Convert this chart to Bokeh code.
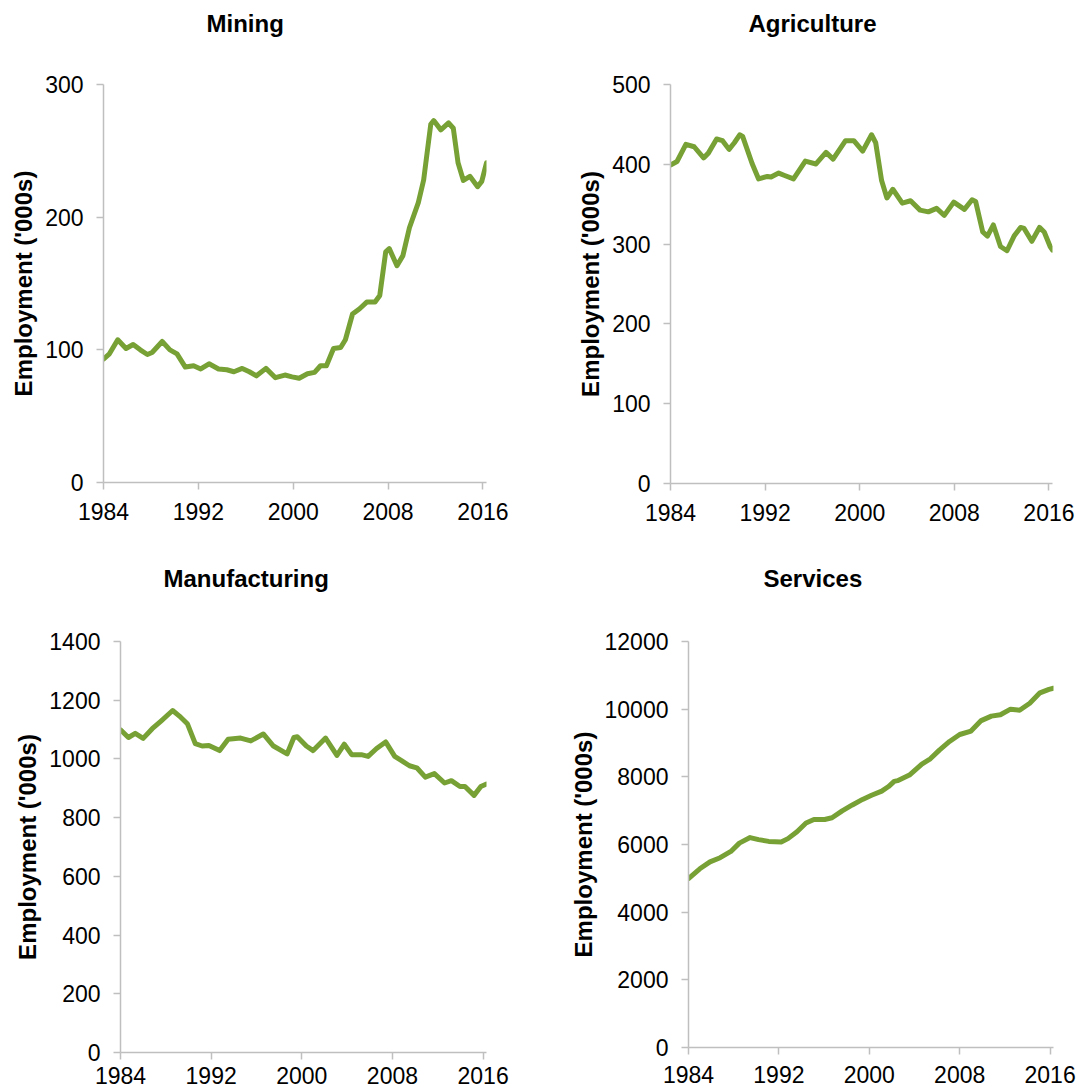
from bokeh.plotting import figure
from bokeh.layouts import column, row
from bokeh.models import Range1d, FixedTicker, Title
from bokeh.embed import file_html
from bokeh.resources import INLINE

# ---------------- data ----------------
x_ticks = [1984, 1992, 2000, 2008, 2016]

mining_year = [1984.0, 1984.5, 1985.2, 1985.9, 1986.5, 1987.1, 1987.7, 1988.1, 1988.95, 1989.6,
               1990.2, 1990.9, 1991.6, 1992.2, 1992.9, 1993.7, 1994.4, 1995.0, 1995.7, 1996.3,
               1996.9, 1997.7, 1998.5, 1999.3, 1999.9, 2000.5, 2001.2, 2001.8, 2002.3, 2002.8,
               2003.4, 2004.0, 2004.4, 2005.0, 2005.6, 2006.2, 2006.9, 2007.3, 2007.8, 2008.1,
               2008.75, 2009.25, 2009.8, 2010.55, 2011.0, 2011.6, 2011.85, 2012.45, 2013.1, 2013.5,
               2013.9, 2014.35, 2014.9, 2015.55, 2015.9, 2016.3]
mining_value = [93, 97, 107.6, 101, 104, 100, 96.5, 98, 106.3, 100,
                97, 87, 88, 85.6, 89.5, 85.6, 85, 83.5, 86, 83.5,
                80.4, 86, 79, 81, 79.6, 78.6, 82, 83, 88, 88,
                101, 101.7, 107.6, 127, 131, 136, 136, 141, 173.8, 176.3,
                163.4, 171, 192, 211, 228, 270, 272.8, 265.8, 271, 267,
                241, 227.7, 230.8, 223, 227, 241]

agri_year = [1984.0, 1984.55, 1985.3, 1986.0, 1986.8, 1987.2, 1987.9, 1988.4, 1988.95, 1989.4,
             1989.85, 1990.1, 1990.9, 1991.45, 1992.2, 1992.5, 1993.15, 1993.65, 1994.4, 1995.4,
             1996.3, 1997.15, 1997.75, 1998.8, 1999.5, 2000.25, 2001.0, 2001.35, 2001.85, 2002.3,
             2002.8, 2003.6, 2004.3, 2005.1, 2005.8, 2006.5, 2007.15, 2007.95, 2008.85, 2009.5,
             2009.8, 2010.4, 2010.8, 2011.3, 2011.9, 2012.45, 2013.05, 2013.6, 2013.9, 2014.55,
             2015.2, 2015.6, 2016.1, 2016.3]
agri_value = [399, 403.5, 425, 422, 408, 414, 431.7, 429.6, 418.7, 427,
              437, 435, 401, 381.7, 384.8, 384, 389, 386, 381.7, 404,
              400.4, 415, 406.5, 429.6, 429.6, 416.5, 437, 427, 379.6, 357.8,
              368.7, 351.3, 354.3, 342.6, 340.4, 344.8, 336, 352.6, 343.5, 355.6,
              353.5, 315.2, 310, 324, 297, 291.7, 310, 320.9, 319.6, 303.5,
              320.9, 315.2, 297, 292.6]

manu_year = [1984.0, 1984.7, 1985.3, 1986.0, 1986.8, 1987.6, 1988.6, 1989.2, 1989.9, 1990.6,
             1991.2, 1991.8, 1992.75, 1993.5, 1994.6, 1995.5, 1996.6, 1997.5, 1998.7, 1999.3,
             1999.6, 2000.4, 2001.0, 2002.1, 2003.1, 2003.75, 2004.4, 2005.25, 2005.85, 2006.6,
             2007.4, 2008.2, 2008.8, 2009.5, 2010.15, 2010.9, 2011.7, 2012.6, 2013.2, 2013.96,
             2014.4, 2015.2, 2015.8, 2016.3]
manu_value = [1099, 1073, 1087, 1070, 1103, 1130, 1165, 1146, 1120, 1052,
              1044, 1046, 1028.5, 1067, 1071, 1061.5, 1085, 1044, 1017, 1073,
              1075.6, 1044, 1028.5, 1071, 1012, 1050, 1014.5, 1014.5, 1008.6, 1035.6,
              1058, 1008.6, 994.5, 976.8, 969.8, 938, 950, 918, 926, 906,
              906, 875.8, 906, 914.5]

serv_year = [1984.0, 1985.0, 1985.9, 1986.8, 1987.75, 1988.5, 1989.45, 1990.2, 1991.1, 1992.2,
             1992.8, 1993.6, 1994.4, 1995.1, 1996.05, 1996.7, 1997.6, 1998.5, 1999.4, 2000.2,
             2001.1, 2001.7, 2002.2, 2002.5, 2003.55, 2004.65, 2005.4, 2006.2, 2007.1, 2008.0,
             2009.0, 2009.9, 2010.8, 2011.6, 2012.5, 2013.3, 2014.2, 2015.1, 2015.9, 2016.3]
serv_value = [4995, 5282, 5487, 5610, 5795, 6041, 6205, 6144, 6092, 6072,
              6174, 6379, 6636, 6738, 6738, 6790, 6995, 7169, 7333, 7456,
              7579, 7713, 7867, 7887, 8051, 8379, 8533, 8790, 9046, 9251,
              9354, 9662, 9795, 9836, 10000, 9969, 10174, 10482, 10585, 10620]

LINE_COLOR = "#77a135"
AXIS_COLOR = "#bfbfbf"
FONT = "Liberation Sans"


def make(title, xs, ys, ymax, ystep, fw, fh, bl, br, bt, bb, toff, gap, xstand):
    p = figure(frame_width=fw, frame_height=fh,
               min_border_left=bl, min_border_right=br,
               min_border_top=bt, min_border_bottom=bb,
               x_range=Range1d(1984, 2016.3), y_range=Range1d(0, ymax),
               output_backend="svg", toolbar_location=None, tools="")
    p.title.text = title
    p.title.align = "left"
    p.title.vertical_align = "bottom"
    p.title.offset = toff
    p.title.standoff = 10
    p.title.text_font = FONT
    p.title.text_font_size = "24px"
    p.title.text_font_style = "bold"
    p.title.text_color = "black"
    # empty spacer between the frame and the title
    p.add_layout(Title(text=" ", text_font_size="1px", standoff=gap), "above")
    p.outline_line_color = None
    p.xgrid.visible = False
    p.ygrid.visible = False
    p.background_fill_color = "white"
    p.border_fill_color = "white"

    p.xaxis.ticker = FixedTicker(ticks=x_ticks)
    p.yaxis.ticker = FixedTicker(ticks=list(range(0, ymax + 1, ystep)))
    for ax in (p.xaxis, p.yaxis):
        ax.axis_line_color = AXIS_COLOR
        ax.axis_line_width = 1.5
        ax.major_tick_line_color = AXIS_COLOR
        ax.major_tick_line_width = 1.5
        ax.major_tick_in = 0
        ax.major_tick_out = 7
        ax.minor_tick_line_color = None
        ax.major_label_text_font = FONT
        ax.major_label_text_font_size = "23px"
        ax.major_label_text_color = "black"
    p.xaxis.major_label_standoff = xstand
    p.yaxis.major_label_standoff = 13
    p.yaxis.axis_label = "Employment ('000s)"
    p.yaxis.axis_label_text_font = FONT
    p.yaxis.axis_label_text_font_size = "24px"
    p.yaxis.axis_label_text_font_style = "bold"
    p.yaxis.axis_label_text_color = "black"
    p.yaxis.axis_label_standoff = 5

    p.line(xs, ys, line_width=5, line_color=LINE_COLOR,
           line_join="round", line_cap="round")
    return p


p1 = make("Mining", mining_year, mining_value, 300, 100,
          383, 398, 103, 56, 84, 58, 103, 40, 13)
p2 = make("Agriculture", agri_year, agri_value, 500, 100,
          382, 399, 128, 32, 84, 57, 78, 40, 13)
p3 = make("Manufacturing", manu_year, manu_value, 1400, 200,
          366, 411, 120, 56, 101, 40, 43, 42, 7)
p4 = make("Services", serv_year, serv_value, 12000, 2000,
          365, 406, 146, 31, 99, 47, 75, 42, 11)

layout = column(row(p1, p2), row(p3, p4))

open("out.html", "w").write(file_html(layout, INLINE))
